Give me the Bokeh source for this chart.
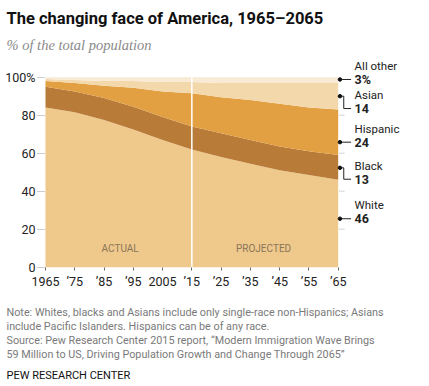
from bokeh.plotting import figure
from bokeh.models import (ColumnDataSource, Label, FixedTicker, Range1d,
                          LinearAxis)
from bokeh.embed import file_html
from bokeh.resources import INLINE

# ---------------- data ----------------
years = [1965, 1975, 1985, 1995, 2005, 2015, 2025, 2035, 2045, 2055, 2065]
white = [84, 81.5, 77.5, 72.5, 67, 62, 58, 54.5, 51, 48.5, 46]
black = [11, 11, 11.5, 12, 12, 12, 12.5, 12.5, 12.5, 12.5, 13]
hispanic = [3, 4.5, 6.5, 10, 13.5, 17.5, 19, 21, 22.5, 23, 24]
asian = [1, 1.5, 2.5, 3.5, 5, 6, 7.5, 9, 11, 13, 14]
other = [1, 1.5, 2, 2, 2.5, 2.5, 3, 3, 3, 3, 3]

group_names = ["All other", "Asian", "Hispanic", "Black", "White"]
group_2065 = ["3%", "14", "24", "13", "46"]

x_tick_values = [1965, 1975, 1985, 1995, 2005, 2015, 2025, 2035, 2045, 2055, 2065]
x_tick_labels = ["1965", "\u201975", "\u201985", "\u201995", "2005", "\u201915",
                 "\u201925", "\u201935", "\u201945", "\u201955", "\u201965"]
y_tick_values = [0, 20, 40, 60, 80, 100]
y_tick_labels = ["0", "20", "40", "60", "80", "100%"]
projection_start = 2015

title_text = "The changing face of America, 1965\u20132065"
subtitle_text = "% of the total population"
notes = [
    "Note: Whites, blacks and Asians include only single-race non-Hispanics; Asians",
    "include Pacific Islanders. Hispanics can be of any race.",
    "Source:  Pew Research Center 2015 report, \u201cModern Immigration Wave Brings",
    "59 Million to US, Driving Population Growth and Change Through 2065\u201d",
]
credit = "PEW RESEARCH CENTER"

# ---------------- styles / layout ----------------
colors = ["#EFC88C", "#B97B38", "#E2A042", "#F3D8AB", "#F8EAD4"]
FONT = "Roboto"
W, H = 421, 384

source = ColumnDataSource(dict(year=years, white=white, black=black,
                               hispanic=hispanic, asian=asian, other=other))

p = figure(width=W, height=H, min_border=0,
           x_range=Range1d(1949.63, 2093.46), y_range=Range1d(-61.74, 140.37),
           x_axis_type=None, y_axis_type=None,
           output_backend="svg", toolbar_location=None, title=None)
p.outline_line_color = None
p.background_fill_color = "white"
p.border_fill_color = "white"
p.xgrid.visible = False
p.ygrid.visible = False

p.varea_stack(stackers=["white", "black", "hispanic", "asian", "other"],
              x="year", color=colors, source=source)

# divider between actual and projected
p.segment(x0=[projection_start], x1=[projection_start], y0=[0], y1=[100],
          line_color="white", line_width=1.5)

# axes drawn at fixed data locations
xa = LinearAxis(fixed_location=0)
xa.ticker = FixedTicker(ticks=x_tick_values)
xa.major_label_overrides = dict(zip(x_tick_values, x_tick_labels))
xa.axis_line_color = None
xa.major_tick_in = 0
xa.major_tick_out = 3
xa.major_tick_line_color = "#666666"
xa.minor_tick_line_color = None
xa.major_label_standoff = 4
xa.major_label_text_font = FONT
xa.major_label_text_font_size = "12.5px"
xa.major_label_text_color = "#222222"
p.add_layout(xa, "below")

ya = LinearAxis(fixed_location=years[0])
ya.ticker = FixedTicker(ticks=y_tick_values)
ya.major_label_overrides = dict(zip(y_tick_values, y_tick_labels))
ya.axis_line_color = None
ya.major_tick_in = 0
ya.major_tick_out = 8
ya.major_tick_line_color = "#9a9a9a"
ya.major_tick_line_dash = "1 1"
ya.minor_tick_line_color = None
ya.major_label_standoff = 2
ya.major_label_text_font = FONT
ya.major_label_text_font_size = "12.5px"
ya.major_label_text_color = "#222222"
p.add_layout(ya, "left")

# right-edge ticks
rt = [v for v in y_tick_values if 0 < v < 100]
p.segment(x0=[2065.4] * len(rt), x1=[2067.4] * len(rt), y0=rt, y1=rt,
          line_color="#aaaaaa", line_width=1, line_dash="1 1")

# leader lines and dots
dot_x, elbow_x, end_x, text_x = 2065.6, 2066.9, 2069.4, 2070.6
dot_y = [98.8, 90.0, 65.8, 52.3, 25.5]
num_y = [98.8, 83.5, 65.8, 46.3, 25.5]
name_dy = 7.2
xs, ys = [], []
for d, n in zip(dot_y, num_y):
    if abs(d - n) < 0.5:
        xs.append([dot_x, end_x]); ys.append([d, d])
    else:
        xs.append([dot_x, elbow_x, elbow_x, end_x]); ys.append([d, d, n, n])
p.multi_line(xs=xs, ys=ys, line_color="#222222", line_width=1)
p.scatter(x=[dot_x] * len(dot_y), y=dot_y, size=3.5, color="#111111")

for name, val, n in zip(group_names, group_2065, num_y):
    p.add_layout(Label(x=text_x, y=n + name_dy, text=name, text_font=FONT,
                       text_font_size="11.5px", text_color="#222222",
                       text_baseline="middle", text_align="left"))
    p.add_layout(Label(x=text_x, y=n, text=val, text_font=FONT,
                       text_font_size="12.5px", text_font_style="bold",
                       text_color="#222222", text_baseline="middle",
                       text_align="left"))

# in-chart labels
p.add_layout(Label(x=1990.5, y=10, text="ACTUAL", text_font=FONT,
                   text_font_size="10px", text_color="#8a7658",
                   text_align="center", text_baseline="middle"))
p.add_layout(Label(x=2039.5, y=10, text="PROJECTED", text_font=FONT,
                   text_font_size="10px", text_color="#8a7658",
                   text_align="center", text_baseline="middle"))

# title, subtitle, notes (screen units: from canvas bottom-left, y up)
def page_y(py):
    return H - py

LX = 6
p.add_layout(Label(x=LX, y=page_y(18.3), x_units="screen", y_units="screen",
                   text=title_text, text_font=FONT, text_font_style="bold",
                   text_font_size="16.5px", text_color="#111111",
                   text_baseline="alphabetic"))
p.add_layout(Label(x=LX, y=page_y(44.3), x_units="screen", y_units="screen",
                   text=subtitle_text, text_font="Liberation Serif",
                   text_font_style="italic", text_font_size="14.5px",
                   text_color="#8a8a8a", text_baseline="alphabetic"))
for i, line in enumerate(notes):
    p.add_layout(Label(x=LX, y=page_y(311.7 + 14.2 * i), x_units="screen",
                       y_units="screen", text=line, text_font=FONT,
                       text_font_size="10.8px", text_color="#7a7a7a",
                       text_baseline="alphabetic"))
p.add_layout(Label(x=LX, y=page_y(375), x_units="screen", y_units="screen",
                   text=credit, text_font=FONT, text_font_size="11px",
                   text_color="#111111", text_baseline="alphabetic"))

open("out.html", "w").write(file_html(p, INLINE))
